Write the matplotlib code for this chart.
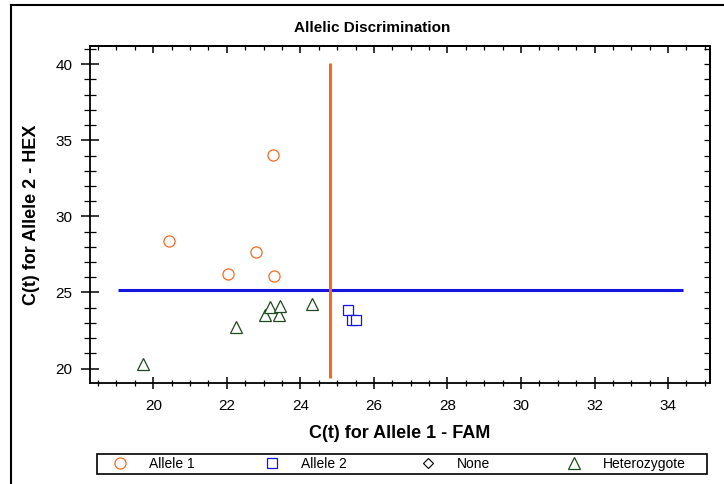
import matplotlib
matplotlib.use("Agg")
import matplotlib.pyplot as plt
from matplotlib.lines import Line2D
from matplotlib.patches import Rectangle
from matplotlib.ticker import MultipleLocator

plt.rcParams["font.family"] = ["Liberation Sans", "DejaVu Sans"]

# Ct values per call group: (FAM, HEX)
allele1_fam = [23.25, 20.44, 22.80, 22.03, 23.28]
allele1_hex = [34.01, 28.38, 27.68, 26.23, 26.07]

allele2_fam = [25.29, 25.41, 25.50]
allele2_hex = [23.82, 23.20, 23.20]

hetero_fam = [19.71, 22.25, 23.05, 23.18, 23.43, 23.45, 24.32]
hetero_hex = [20.31, 22.76, 23.49, 24.03, 23.49, 24.14, 24.25]

# call thresholds
hex_threshold = 25.18
hex_threshold_span = (19.03, 34.4)
fam_threshold = 24.82
fam_threshold_span = (19.4, 40.1)

legend_labels = ["Allele 1", "Allele 2", "None", "Heterozygote"]

ORANGE = "#F26B22"
BLUE = "#1515E0"
GREEN = "#1E4A1E"

W, H = 724, 484
fig = plt.figure(figsize=(W / 100, H / 100), dpi=100)
ax = fig.add_axes([90 / W, 1 - 383 / H, 620 / W, 337 / H])

ax.hlines(hex_threshold, *hex_threshold_span, color=BLUE, lw=2.2, zorder=2)
ax.vlines(fam_threshold, *fam_threshold_span, color=ORANGE, lw=2.2, zorder=2)

mk = dict(ls="none", mfc="white", mew=0.9, ms=8, zorder=3)
ax.plot(allele1_fam, allele1_hex, marker="o", mec=ORANGE, **mk)
ax.plot(allele2_fam, allele2_hex, marker="s", mec=BLUE, **{**mk, "ms": 7.5})
ax.plot(hetero_fam, hetero_hex, marker="^", mec=GREEN, **mk)

ax.set_xlim(18.28, 35.14)
ax.set_ylim(19.05, 41.2)

ax.xaxis.set_major_locator(MultipleLocator(2))
ax.xaxis.set_minor_locator(MultipleLocator(0.5))
ax.yaxis.set_major_locator(MultipleLocator(5))
ax.yaxis.set_minor_locator(MultipleLocator(1))

ax.tick_params(axis="x", which="major", direction="inout", length=9, width=1.1,
               labelsize=11, pad=7)
ax.tick_params(axis="x", which="minor", direction="inout", length=5, width=0.9)
ax.tick_params(axis="y", which="major", direction="inout", length=13, width=1.1,
               labelsize=11, pad=6)
ax.tick_params(axis="y", which="minor", direction="inout", length=8, width=0.9)

# inward ticks on the top and right edges
top = ax.secondary_xaxis("top")
top.xaxis.set_major_locator(MultipleLocator(2))
top.xaxis.set_minor_locator(MultipleLocator(0.5))
top.tick_params(which="both", direction="in", labeltop=False)
top.tick_params(which="major", length=5, width=1.1)
top.tick_params(which="minor", length=3, width=0.9)
right = ax.secondary_yaxis("right")
right.yaxis.set_major_locator(MultipleLocator(1))
right.yaxis.set_minor_locator(MultipleLocator(1))
right.tick_params(which="both", direction="in", labelright=False, length=4, width=0.9)

for sp in list(ax.spines.values()) + [top.spines["top"], right.spines["right"]]:
    sp.set_linewidth(1.3)

ax.set_xlabel("C(t) for Allele 1 - FAM", fontsize=13, fontweight="bold", labelpad=9)
ax.set_ylabel("C(t) for Allele 2 - HEX", fontsize=13, fontweight="bold", labelpad=11)
fig.text(372 / W, 1 - 28 / H, "Allelic Discrimination", ha="center", va="center",
         fontsize=11, fontweight="bold")

# outer panel border
fig.add_artist(Line2D([11 / W, 11 / W], [0, 1 - 5 / H], color="black", lw=1.5))
fig.add_artist(Line2D([11 / W, 723 / W], [1 - 5 / H, 1 - 5 / H], color="black", lw=1.5))

# legend strip
fig.add_artist(Rectangle((97 / W, 1 - 474 / H), 610 / W, 20 / H, transform=fig.transFigure,
                         fill=False, ec="black", lw=1.2))
handles = [
    Line2D([], [], ls="none", marker="o", mfc="none", mec=ORANGE, ms=8, mew=0.9),
    Line2D([], [], ls="none", marker="s", mfc="none", mec=BLUE, ms=7.5, mew=0.9),
    Line2D([], [], ls="none", marker="D", mfc="none", mec="black", ms=5, mew=0.8),
    Line2D([], [], ls="none", marker="^", mfc="none", mec=GREEN, ms=8, mew=0.9),
]
marker_x = [120, 272, 428, 574]
for h, lab, mx in zip(handles, legend_labels, marker_x):
    leg = fig.legend([h], [lab], loc="center left",
                     bbox_to_anchor=((mx - 7) / W, 1 - 464 / H),
                     frameon=False, fontsize=10, handlelength=1.0,
                     handletextpad=1.6, borderpad=0, borderaxespad=0)

fig.savefig("out.png", dpi=100)
